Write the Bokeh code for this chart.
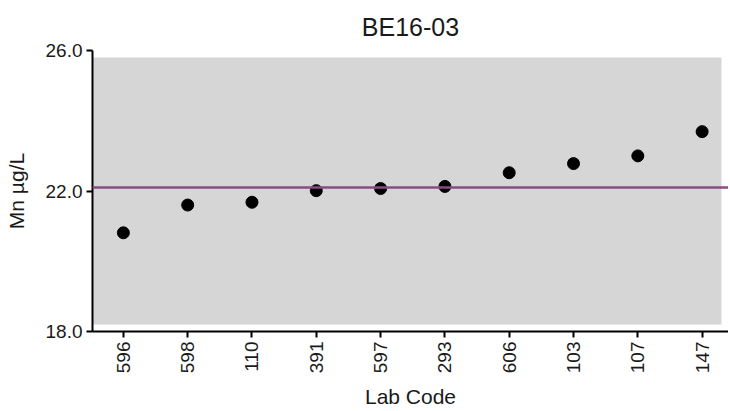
from bokeh.plotting import figure
from bokeh.models import BoxAnnotation, Span, FixedTicker, Range1d
from bokeh.embed import file_html
from bokeh.resources import INLINE
import math

lab_codes = ["596", "598", "110", "391", "597", "293", "606", "103", "107", "147"]
mn_values = [20.81, 21.60, 21.68, 22.01, 22.07, 22.13, 22.52, 22.78, 23.00, 23.69]
assigned_value = 22.10
band_low = 18.2
band_high = 25.8
y_ticks = [18, 22, 26]

FONT = "Liberation Sans"

p = figure(width=728, height=411, output_backend="svg", toolbar_location=None,
           x_range=Range1d(-0.48, 9.41), y_range=Range1d(18, 26),
           title="BE16-03", min_border_left=92, min_border_right=0,
           min_border_top=50, min_border_bottom=80)
p.outline_line_color = None
p.grid.visible = False
p.background_fill_color = "white"

p.title.align = "center"
p.title.text_font = FONT
p.title.text_font_style = "normal"
p.title.text_font_size = "25px"
p.title.text_color = "#1a1a1a"
p.title.standoff = 19

p.add_layout(BoxAnnotation(bottom=band_low, top=band_high, left=-0.48, right=9.3,
                           fill_color="#d6d6d6", fill_alpha=1.0, line_color=None,
                           level="underlay"))
p.add_layout(Span(location=assigned_value, dimension="width", line_color="#8b4a86",
                  line_width=2.5))

xs = list(range(len(lab_codes)))
p.scatter(xs, mn_values, size=12, color="black")

p.xaxis.ticker = FixedTicker(ticks=xs)
p.xaxis.major_label_overrides = {i: c for i, c in enumerate(lab_codes)}
p.xaxis.major_label_orientation = math.pi / 2
p.xaxis.axis_label = "Lab Code"

p.yaxis.ticker = FixedTicker(ticks=y_ticks)
p.yaxis.major_label_overrides = {t: f"{t:.1f}" for t in y_ticks}
p.yaxis.axis_label = "Mn µg/L"

for ax in (p.xaxis, p.yaxis):
    ax.axis_line_width = 2
    ax.axis_line_color = "black"
    ax.major_tick_line_width = 2
    ax.major_tick_out = 6
    ax.major_tick_in = 0
    ax.minor_tick_line_color = None
    ax.major_label_text_font = FONT
    ax.major_label_text_font_size = "19px"
    ax.major_label_text_color = "#1a1a1a"
    ax.major_label_standoff = 4
    ax.axis_label_text_font = FONT
    ax.axis_label_text_font_style = "normal"
    ax.axis_label_text_font_size = "21px"
    ax.axis_label_text_color = "#1a1a1a"

p.xaxis.axis_label_standoff = 9
p.yaxis.axis_label_standoff = 15

open("out.html", "w").write(file_html(p, INLINE))
